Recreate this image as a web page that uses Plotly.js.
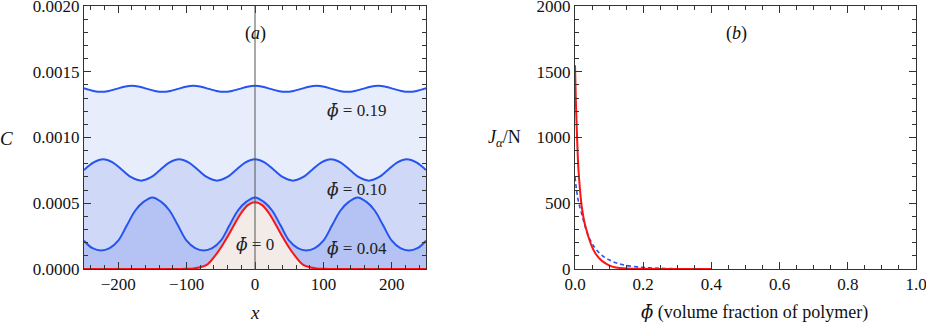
<!DOCTYPE html>
<html>
<head>
<meta charset="utf-8">
<script src="https://cdn.plot.ly/plotly-3.0.1.min.js"></script>
<style>html,body{margin:0;padding:0;background:#fff;}#chart{width:926px;height:324px;}</style>
</head>
<body>
<div id="chart"></div>
<script>
// ---- Panel (a): concentration profiles C(x) ----
const x19 = [-250,-236.25,-225,-213.75,-202.5,-191.25,-180,-168.75,-157.5,-146.25,-135,-123.75,-112.5,-101.25,-90,-78.75,-67.5,-56.25,-45,-33.75,-22.5,-11.25,0,11.25,22.5,33.75,45,56.25,67.5,78.75,90,101.25,112.5,123.75,135,146.25,157.5,168.75,180,191.25,202.5,213.75,225,236.25,250];
const c19 = [0.001374,0.001354,0.001347,0.001354,0.00137,0.001386,0.001393,0.001386,0.00137,0.001354,0.001347,0.001354,0.00137,0.001386,0.001393,0.001386,0.00137,0.001354,0.001347,0.001354,0.00137,0.001386,0.001393,0.001386,0.00137,0.001354,0.001347,0.001354,0.00137,0.001386,0.001393,0.001386,0.00137,0.001354,0.001347,0.001354,0.00137,0.001386,0.001393,0.001386,0.00137,0.001354,0.001347,0.001354,0.001374];

const x10 = [-250,-235.875,-222,-208.125,-194.25,-180.375,-166.5,-152.625,-138.75,-124.875,-111,-97.125,-83.25,-69.375,-55.5,-41.625,-27.75,-13.875,0,13.875,27.75,41.625,55.5,69.375,83.25,97.125,111,124.875,138.75,152.625,166.5,180.375,194.25,208.125,222,235.875,250];
const c10 = [0.000752,0.00081,0.000834,0.00081,0.000753,0.000696,0.000672,0.000696,0.000753,0.00081,0.000834,0.00081,0.000753,0.000696,0.000672,0.000696,0.000753,0.00081,0.000834,0.00081,0.000753,0.000696,0.000672,0.000696,0.000753,0.00081,0.000834,0.00081,0.000753,0.000696,0.000672,0.000696,0.000753,0.00081,0.000834,0.00081,0.000752];

const x04 = [-250,-237.5,-225,-212.5,-200,-187.5,-175,-162.5,-150,-137.5,-125,-112.5,-100,-87.5,-75,-62.5,-50,-37.5,-25,-12.5,0,12.5,25,37.5,50,62.5,75,87.5,100,112.5,125,137.5,150,162.5,175,187.5,200,212.5,225,237.5,250];
const c04 = [0.000215,0.000158,0.00014,0.000158,0.000215,0.00033,0.000445,0.000512,0.000544,0.000512,0.000445,0.00033,0.000215,0.000158,0.00014,0.000158,0.000215,0.00033,0.000445,0.000512,0.000544,0.000512,0.000445,0.00033,0.000215,0.000158,0.00014,0.000158,0.000215,0.00033,0.000445,0.000512,0.000544,0.000512,0.000445,0.00033,0.000215,0.000158,0.00014,0.000158,0.000215];

const x00 = [-250,-200,-150,-110,-100,-90,-80,-70,-60,-50,-40,-30,-20,-10,0,10,20,30,40,50,60,70,80,90,100,110,150,200,250];
const c00 = [0,0,0,0,0.000001,0.000004,0.000013,0.000033,0.00009,0.000162,0.000248,0.00034,0.000428,0.000488,0.000507,0.000488,0.000428,0.00034,0.000248,0.000162,0.00009,0.000033,0.000013,0.000004,0.000001,0,0,0,0];

// ---- Panel (b): J_alpha / N versus phi ----
const phiRed = [0,0.0025,0.005,0.0075,0.01,0.015,0.02,0.025,0.03,0.04,0.05,0.06,0.07,0.08,0.1,0.12,0.15,0.2,0.3,0.4];
const jRed   = [1550,1280,1080,900,760,590,470,390,330,240,168,118,85,60,28,12,4,1,0,0];
const phiBlue = [0,0.005,0.01,0.02,0.03,0.04,0.05,0.06,0.08,0.1,0.12,0.15,0.2,0.25,0.285];
const jBlue   = [700,590,515,415,320,245,195,155,102,70,47,27,12,5,3];

const leftXTicks = [-200,-100,0,100,200];
const PHIBAR = '<span style="font-family:\'DejaVu Serif\'"><i>\u03D5\u0304</i></span>';
const labels = [PHIBAR + " = 0.19", PHIBAR + " = 0.10", PHIBAR + " = 0.04", PHIBAR + " = 0"];

const BLUE = "rgb(38,84,238)";
const RED = "rgb(250,20,20)";
const SERIF = "'Liberation Serif'";

const traces = [
  {x:x19, y:c19, mode:"lines", line:{color:BLUE, width:2, shape:"spline"}, fill:"tozeroy", fillcolor:"#e8edfb", xaxis:"x", yaxis:"y", hoverinfo:"skip"},
  {x:x10, y:c10, mode:"lines", line:{color:BLUE, width:2, shape:"spline"}, fill:"tozeroy", fillcolor:"#cfd8f7", xaxis:"x", yaxis:"y", hoverinfo:"skip"},
  {x:x04, y:c04, mode:"lines", line:{color:BLUE, width:2, shape:"spline"}, fill:"tozeroy", fillcolor:"#b4c3f4", xaxis:"x", yaxis:"y", hoverinfo:"skip"},
  {x:x00, y:c00, mode:"lines", line:{color:RED, width:2, shape:"spline"}, fill:"tozeroy", fillcolor:"#f3ebe8", xaxis:"x", yaxis:"y", hoverinfo:"skip"},
  {x:phiBlue, y:jBlue, mode:"lines", line:{color:BLUE, width:1.6, dash:"4px,3px", shape:"spline"}, xaxis:"x2", yaxis:"y2", hoverinfo:"skip"},
  {x:phiRed, y:jRed, mode:"lines", line:{color:RED, width:2, shape:"spline", smoothing:0.6}, xaxis:"x2", yaxis:"y2", hoverinfo:"skip"}
];

const axisCommon = {
  showline:true, linecolor:"#333", linewidth:1, mirror:"allticks",
  ticks:"inside", ticklen:7, tickcolor:"#333", tickwidth:1,
  showgrid:false, zeroline:false, ticklabeloverflow:"allow",
  tickfont:{family:SERIF, size:17, color:"#111"},
  fixedrange:true
};

const layout = {
  width:926, height:324,
  margin:{l:0, r:0, t:6, b:55},
  paper_bgcolor:"#fff", plot_bgcolor:"#fff",
  showlegend:false,
  font:{family:SERIF},
  xaxis: Object.assign({}, axisCommon, {domain:[84/926, 426/926], range:[-250,250], tickvals:leftXTicks,
          minor:{dtick:20, ticklen:4, tickcolor:"#333", ticks:"inside"}, anchor:"y"}),
  yaxis: Object.assign({}, axisCommon, {range:[0,0.002], dtick:0.0005, tickformat:".4f",
          minor:{dtick:0.0001, ticklen:4, tickcolor:"#333", ticks:"inside"}, anchor:"x"}),
  xaxis2: Object.assign({}, axisCommon, {domain:[575/926, 916/926], range:[0,1], dtick:0.2, tickformat:".1f",
          minor:{dtick:0.05, ticklen:4, tickcolor:"#333", ticks:"inside"}, anchor:"y2"}),
  yaxis2: Object.assign({}, axisCommon, {range:[0,2000], dtick:500,
          minor:{dtick:100, ticklen:4, tickcolor:"#333", ticks:"inside"}, anchor:"x2"}),
  shapes:[
    {type:"line", xref:"x", yref:"y", x0:0, x1:0, y0:0, y1:0.002, line:{color:"#555", width:1}}
  ],
  annotations:[
    {xref:"x", yref:"y", x:0, y:0.00179, text:"(<i>a</i>)", showarrow:false, font:{family:SERIF, size:18, color:"#111"}},
    {xref:"x2", yref:"y2", x:0.474, y:1792, text:"(<i>b</i>)", showarrow:false, font:{family:SERIF, size:18, color:"#111"}},
    {xref:"x", yref:"y", x:149, y:0.00121, text:labels[0], showarrow:false, font:{family:SERIF, size:17, color:"#222"}},
    {xref:"x", yref:"y", x:149, y:0.000608, text:labels[1], showarrow:false, font:{family:SERIF, size:17, color:"#222"}},
    {xref:"x", yref:"y", x:149, y:0.00016, text:labels[2], showarrow:false, font:{family:SERIF, size:17, color:"#222"}},
    {xref:"x", yref:"y", x:0, y:0.000188, text:labels[3], showarrow:false, font:{family:SERIF, size:17, color:"#222"}},
    {xref:"paper", yref:"paper", x:6/926, y:(269-138)/263, xanchor:"center", yanchor:"middle", text:"<i>C</i>", showarrow:false, font:{family:SERIF, size:19, color:"#111"}},
    {xref:"paper", yref:"paper", x:255/926, y:(269-312)/263, xanchor:"center", yanchor:"middle", text:"<i>x</i>", showarrow:false, font:{family:SERIF, size:19, color:"#111"}},
    {xref:"paper", yref:"paper", x:504/926, y:(269-138)/263, xanchor:"center", yanchor:"middle", text:"<i>J</i><sub><i>\u03B1</i></sub>/N", showarrow:false, font:{family:SERIF, size:18, color:"#111"}},
    {xref:"paper", yref:"paper", x:754/926, y:(269-312)/263, xanchor:"center", yanchor:"middle", text:PHIBAR + " (volume fraction of polymer)", showarrow:false, font:{family:SERIF, size:18, color:"#111"}}
  ]
};

Plotly.newPlot("chart", traces, layout, {staticPlot:true, displayModeBar:false});
</script>
</body>
</html>
